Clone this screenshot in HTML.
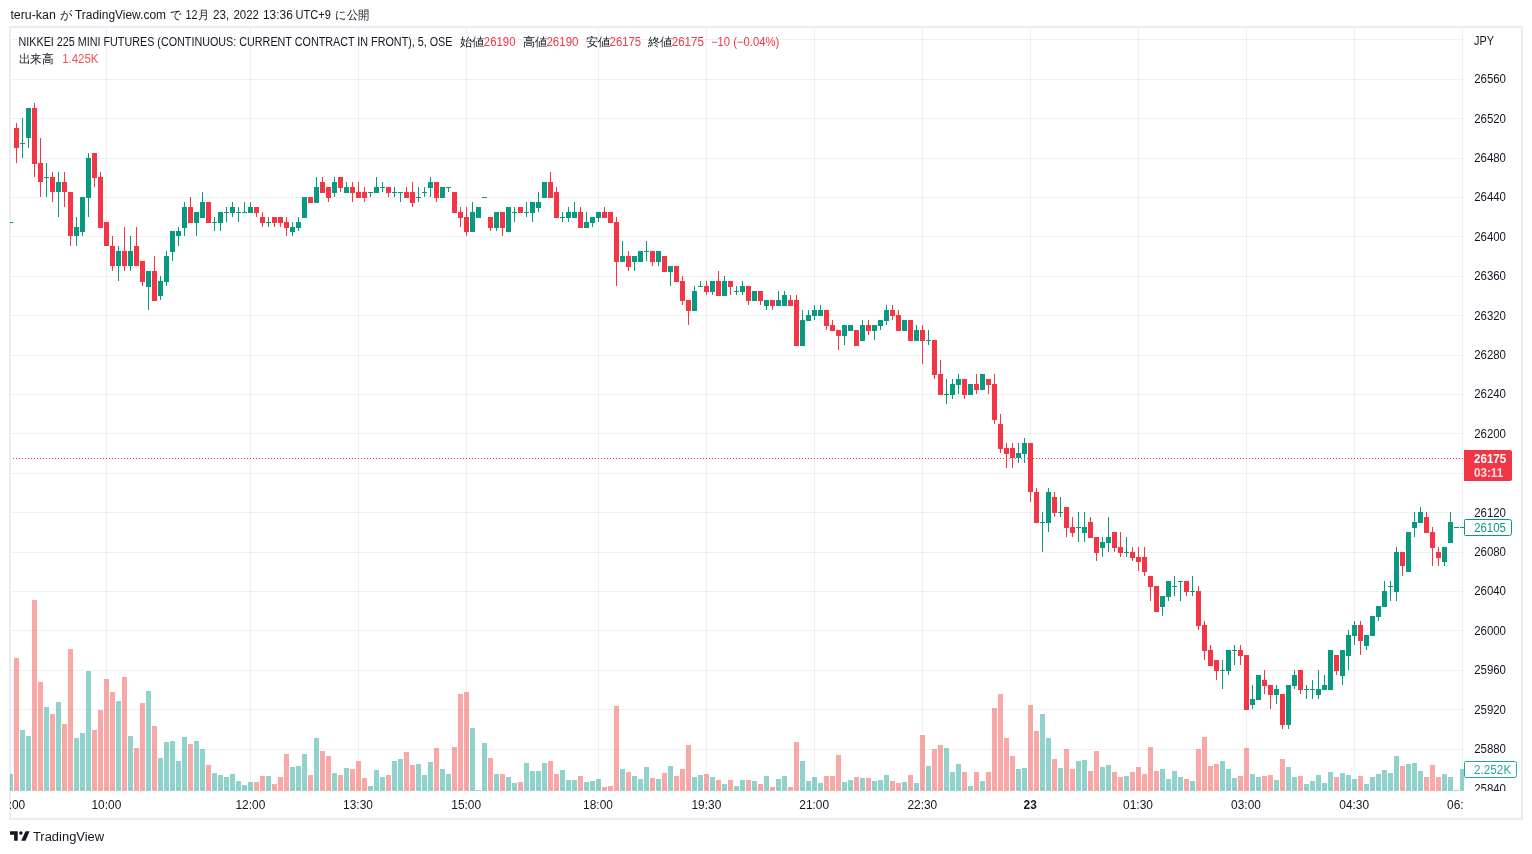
<!DOCTYPE html>
<html><head><meta charset="utf-8"><style>
html,body{margin:0;padding:0}
body{width:1532px;height:854px;background:#fff;position:relative;overflow:hidden;font-family:"Liberation Sans",sans-serif;color:#131722}
.t{position:absolute;white-space:nowrap}
.top{left:10.4px;top:5px;font-size:13px;line-height:16px}
.hdr{font-size:12px;line-height:14px}
.hdr .r{color:#f23645}
.hdr .r2{color:#ef5350}
.sp{display:inline-block;width:8px}
.pax{position:absolute;left:1463px;top:28px;width:58px;height:763px;overflow:hidden}
.pax .pl{position:absolute;left:11px;font-size:12px;line-height:14px;margin-top:-28px;letter-spacing:-0.4px}
.pl.w{color:#fff}
.pl.gr{color:#089981}
.pl.gr2{color:#26a69a}
.tax{position:absolute;left:11px;top:791px;width:1452px;height:27px;overflow:hidden}
.tl{position:absolute;top:6px;width:80px;text-align:center;font-size:12px;line-height:14px;margin-left:-11px;letter-spacing:-0.2px}
.logo{left:32.8px;top:829px;font-size:12.5px;line-height:14px}
</style></head><body>
<svg width="1532" height="854" style="position:absolute;left:0;top:0" shape-rendering="crispEdges"><defs><clipPath id="cp"><rect x="10" y="28" width="1454" height="763"/></clipPath><clipPath id="cpa"><rect x="1463" y="28" width="58" height="763"/></clipPath></defs><rect x="10" y="27" width="1512" height="792" fill="none" stroke="#ebedf2" stroke-width="2"/><g clip-path="url(#cp)"><rect x="10" y="39" width="1453" height="1" fill="rgba(40,60,50,0.07)"/><rect x="10" y="79" width="1453" height="1" fill="rgba(40,60,50,0.07)"/><rect x="10" y="118" width="1453" height="1" fill="rgba(40,60,50,0.07)"/><rect x="10" y="158" width="1453" height="1" fill="rgba(40,60,50,0.07)"/><rect x="10" y="197" width="1453" height="1" fill="rgba(40,60,50,0.07)"/><rect x="10" y="236" width="1453" height="1" fill="rgba(40,60,50,0.07)"/><rect x="10" y="276" width="1453" height="1" fill="rgba(40,60,50,0.07)"/><rect x="10" y="315" width="1453" height="1" fill="rgba(40,60,50,0.07)"/><rect x="10" y="355" width="1453" height="1" fill="rgba(40,60,50,0.07)"/><rect x="10" y="394" width="1453" height="1" fill="rgba(40,60,50,0.07)"/><rect x="10" y="433" width="1453" height="1" fill="rgba(40,60,50,0.07)"/><rect x="10" y="473" width="1453" height="1" fill="rgba(40,60,50,0.07)"/><rect x="10" y="512" width="1453" height="1" fill="rgba(40,60,50,0.07)"/><rect x="10" y="552" width="1453" height="1" fill="rgba(40,60,50,0.07)"/><rect x="10" y="591" width="1453" height="1" fill="rgba(40,60,50,0.07)"/><rect x="10" y="630" width="1453" height="1" fill="rgba(40,60,50,0.07)"/><rect x="10" y="670" width="1453" height="1" fill="rgba(40,60,50,0.07)"/><rect x="10" y="709" width="1453" height="1" fill="rgba(40,60,50,0.07)"/><rect x="10" y="749" width="1453" height="1" fill="rgba(40,60,50,0.07)"/><rect x="10" y="788" width="1453" height="1" fill="rgba(40,60,50,0.07)"/><rect x="106" y="28" width="1" height="763" fill="rgba(40,60,50,0.07)"/><rect x="250" y="28" width="1" height="763" fill="rgba(40,60,50,0.07)"/><rect x="358" y="28" width="1" height="763" fill="rgba(40,60,50,0.07)"/><rect x="466" y="28" width="1" height="763" fill="rgba(40,60,50,0.07)"/><rect x="598" y="28" width="1" height="763" fill="rgba(40,60,50,0.07)"/><rect x="706" y="28" width="1" height="763" fill="rgba(40,60,50,0.07)"/><rect x="814" y="28" width="1" height="763" fill="rgba(40,60,50,0.07)"/><rect x="922" y="28" width="1" height="763" fill="rgba(40,60,50,0.07)"/><rect x="1030" y="28" width="1" height="763" fill="rgba(40,60,50,0.07)"/><rect x="1138" y="28" width="1" height="763" fill="rgba(40,60,50,0.07)"/><rect x="1246" y="28" width="1" height="763" fill="rgba(40,60,50,0.07)"/><rect x="1354" y="28" width="1" height="763" fill="rgba(40,60,50,0.07)"/><rect x="1462" y="28" width="1" height="763" fill="rgba(40,60,50,0.07)"/><rect x="8" y="774" width="5" height="17" fill="rgba(38,166,154,0.5)"/><rect x="14" y="658" width="5" height="133" fill="rgba(239,83,80,0.5)"/><rect x="20" y="730" width="5" height="61" fill="rgba(38,166,154,0.5)"/><rect x="26" y="736" width="5" height="55" fill="rgba(38,166,154,0.5)"/><rect x="32" y="600" width="5" height="191" fill="rgba(239,83,80,0.5)"/><rect x="38" y="682" width="5" height="109" fill="rgba(239,83,80,0.5)"/><rect x="44" y="707" width="5" height="84" fill="rgba(38,166,154,0.5)"/><rect x="50" y="714" width="5" height="77" fill="rgba(239,83,80,0.5)"/><rect x="56" y="702" width="5" height="89" fill="rgba(38,166,154,0.5)"/><rect x="62" y="724" width="5" height="67" fill="rgba(239,83,80,0.5)"/><rect x="68" y="649" width="5" height="142" fill="rgba(239,83,80,0.5)"/><rect x="74" y="738" width="5" height="53" fill="rgba(38,166,154,0.5)"/><rect x="80" y="733" width="5" height="58" fill="rgba(38,166,154,0.5)"/><rect x="86" y="671" width="5" height="120" fill="rgba(38,166,154,0.5)"/><rect x="92" y="730" width="5" height="61" fill="rgba(239,83,80,0.5)"/><rect x="98" y="710" width="5" height="81" fill="rgba(239,83,80,0.5)"/><rect x="104" y="679" width="5" height="112" fill="rgba(239,83,80,0.5)"/><rect x="110" y="692" width="5" height="99" fill="rgba(239,83,80,0.5)"/><rect x="116" y="701" width="5" height="90" fill="rgba(38,166,154,0.5)"/><rect x="122" y="677" width="5" height="114" fill="rgba(239,83,80,0.5)"/><rect x="128" y="736" width="5" height="55" fill="rgba(38,166,154,0.5)"/><rect x="134" y="748" width="5" height="43" fill="rgba(239,83,80,0.5)"/><rect x="140" y="703" width="5" height="88" fill="rgba(239,83,80,0.5)"/><rect x="146" y="691" width="5" height="100" fill="rgba(38,166,154,0.5)"/><rect x="152" y="726" width="5" height="65" fill="rgba(239,83,80,0.5)"/><rect x="158" y="758" width="5" height="33" fill="rgba(38,166,154,0.5)"/><rect x="164" y="742" width="5" height="49" fill="rgba(38,166,154,0.5)"/><rect x="170" y="741" width="5" height="50" fill="rgba(38,166,154,0.5)"/><rect x="176" y="761" width="5" height="30" fill="rgba(38,166,154,0.5)"/><rect x="182" y="737" width="5" height="54" fill="rgba(38,166,154,0.5)"/><rect x="188" y="744" width="5" height="47" fill="rgba(239,83,80,0.5)"/><rect x="194" y="741" width="5" height="50" fill="rgba(38,166,154,0.5)"/><rect x="200" y="749" width="5" height="42" fill="rgba(38,166,154,0.5)"/><rect x="206" y="765" width="5" height="26" fill="rgba(239,83,80,0.5)"/><rect x="212" y="773" width="5" height="18" fill="rgba(38,166,154,0.5)"/><rect x="218" y="775" width="5" height="16" fill="rgba(38,166,154,0.5)"/><rect x="224" y="777" width="5" height="14" fill="rgba(38,166,154,0.5)"/><rect x="230" y="774" width="5" height="17" fill="rgba(38,166,154,0.5)"/><rect x="236" y="781" width="5" height="10" fill="rgba(38,166,154,0.5)"/><rect x="242" y="785" width="5" height="6" fill="rgba(38,166,154,0.5)"/><rect x="248" y="782" width="5" height="9" fill="rgba(38,166,154,0.5)"/><rect x="254" y="782" width="5" height="9" fill="rgba(239,83,80,0.5)"/><rect x="260" y="776" width="5" height="15" fill="rgba(239,83,80,0.5)"/><rect x="266" y="776" width="5" height="15" fill="rgba(38,166,154,0.5)"/><rect x="272" y="784" width="5" height="7" fill="rgba(239,83,80,0.5)"/><rect x="278" y="777" width="5" height="14" fill="rgba(239,83,80,0.5)"/><rect x="284" y="754" width="5" height="37" fill="rgba(239,83,80,0.5)"/><rect x="290" y="767" width="5" height="24" fill="rgba(38,166,154,0.5)"/><rect x="296" y="766" width="5" height="25" fill="rgba(38,166,154,0.5)"/><rect x="302" y="754" width="5" height="37" fill="rgba(38,166,154,0.5)"/><rect x="308" y="775" width="5" height="16" fill="rgba(239,83,80,0.5)"/><rect x="314" y="738" width="5" height="53" fill="rgba(38,166,154,0.5)"/><rect x="320" y="751" width="5" height="40" fill="rgba(239,83,80,0.5)"/><rect x="326" y="756" width="5" height="35" fill="rgba(239,83,80,0.5)"/><rect x="332" y="773" width="5" height="18" fill="rgba(38,166,154,0.5)"/><rect x="338" y="775" width="5" height="16" fill="rgba(239,83,80,0.5)"/><rect x="344" y="768" width="5" height="23" fill="rgba(38,166,154,0.5)"/><rect x="350" y="769" width="5" height="22" fill="rgba(239,83,80,0.5)"/><rect x="356" y="761" width="5" height="30" fill="rgba(239,83,80,0.5)"/><rect x="362" y="778" width="5" height="13" fill="rgba(239,83,80,0.5)"/><rect x="368" y="786" width="5" height="5" fill="rgba(38,166,154,0.5)"/><rect x="374" y="770" width="5" height="21" fill="rgba(38,166,154,0.5)"/><rect x="380" y="777" width="5" height="14" fill="rgba(38,166,154,0.5)"/><rect x="386" y="775" width="5" height="16" fill="rgba(239,83,80,0.5)"/><rect x="392" y="761" width="5" height="30" fill="rgba(38,166,154,0.5)"/><rect x="398" y="759" width="5" height="32" fill="rgba(38,166,154,0.5)"/><rect x="404" y="752" width="5" height="39" fill="rgba(239,83,80,0.5)"/><rect x="410" y="765" width="5" height="26" fill="rgba(239,83,80,0.5)"/><rect x="416" y="764" width="5" height="27" fill="rgba(38,166,154,0.5)"/><rect x="422" y="775" width="5" height="16" fill="rgba(38,166,154,0.5)"/><rect x="428" y="762" width="5" height="29" fill="rgba(38,166,154,0.5)"/><rect x="434" y="748" width="5" height="43" fill="rgba(239,83,80,0.5)"/><rect x="440" y="769" width="5" height="22" fill="rgba(38,166,154,0.5)"/><rect x="446" y="774" width="5" height="17" fill="rgba(38,166,154,0.5)"/><rect x="452" y="747" width="5" height="44" fill="rgba(239,83,80,0.5)"/><rect x="458" y="694" width="5" height="97" fill="rgba(239,83,80,0.5)"/><rect x="464" y="692" width="5" height="99" fill="rgba(239,83,80,0.5)"/><rect x="470" y="728" width="5" height="63" fill="rgba(38,166,154,0.5)"/><rect x="476" y="790" width="5" height="1" fill="rgba(38,166,154,0.5)"/><rect x="482" y="743" width="5" height="48" fill="rgba(38,166,154,0.5)"/><rect x="488" y="758" width="5" height="33" fill="rgba(239,83,80,0.5)"/><rect x="494" y="774" width="5" height="17" fill="rgba(38,166,154,0.5)"/><rect x="500" y="774" width="5" height="17" fill="rgba(239,83,80,0.5)"/><rect x="506" y="777" width="5" height="14" fill="rgba(38,166,154,0.5)"/><rect x="512" y="783" width="5" height="8" fill="rgba(38,166,154,0.5)"/><rect x="518" y="782" width="5" height="9" fill="rgba(239,83,80,0.5)"/><rect x="524" y="763" width="5" height="28" fill="rgba(38,166,154,0.5)"/><rect x="530" y="771" width="5" height="20" fill="rgba(38,166,154,0.5)"/><rect x="536" y="771" width="5" height="20" fill="rgba(38,166,154,0.5)"/><rect x="542" y="763" width="5" height="28" fill="rgba(38,166,154,0.5)"/><rect x="548" y="761" width="5" height="30" fill="rgba(239,83,80,0.5)"/><rect x="554" y="774" width="5" height="17" fill="rgba(239,83,80,0.5)"/><rect x="560" y="770" width="5" height="21" fill="rgba(38,166,154,0.5)"/><rect x="566" y="780" width="5" height="11" fill="rgba(38,166,154,0.5)"/><rect x="572" y="780" width="5" height="11" fill="rgba(38,166,154,0.5)"/><rect x="578" y="776" width="5" height="15" fill="rgba(239,83,80,0.5)"/><rect x="584" y="782" width="5" height="9" fill="rgba(38,166,154,0.5)"/><rect x="590" y="781" width="5" height="10" fill="rgba(38,166,154,0.5)"/><rect x="596" y="779" width="5" height="12" fill="rgba(38,166,154,0.5)"/><rect x="602" y="787" width="5" height="4" fill="rgba(239,83,80,0.5)"/><rect x="608" y="786" width="5" height="5" fill="rgba(239,83,80,0.5)"/><rect x="614" y="706" width="5" height="85" fill="rgba(239,83,80,0.5)"/><rect x="620" y="769" width="5" height="22" fill="rgba(38,166,154,0.5)"/><rect x="626" y="772" width="5" height="19" fill="rgba(239,83,80,0.5)"/><rect x="632" y="776" width="5" height="15" fill="rgba(38,166,154,0.5)"/><rect x="638" y="779" width="5" height="12" fill="rgba(38,166,154,0.5)"/><rect x="644" y="767" width="5" height="24" fill="rgba(38,166,154,0.5)"/><rect x="650" y="778" width="5" height="13" fill="rgba(239,83,80,0.5)"/><rect x="656" y="779" width="5" height="12" fill="rgba(38,166,154,0.5)"/><rect x="662" y="773" width="5" height="18" fill="rgba(239,83,80,0.5)"/><rect x="668" y="766" width="5" height="25" fill="rgba(38,166,154,0.5)"/><rect x="674" y="776" width="5" height="15" fill="rgba(239,83,80,0.5)"/><rect x="680" y="769" width="5" height="22" fill="rgba(239,83,80,0.5)"/><rect x="686" y="745" width="5" height="46" fill="rgba(239,83,80,0.5)"/><rect x="692" y="777" width="5" height="14" fill="rgba(38,166,154,0.5)"/><rect x="698" y="775" width="5" height="16" fill="rgba(38,166,154,0.5)"/><rect x="704" y="774" width="5" height="17" fill="rgba(239,83,80,0.5)"/><rect x="710" y="777" width="5" height="14" fill="rgba(38,166,154,0.5)"/><rect x="716" y="780" width="5" height="11" fill="rgba(239,83,80,0.5)"/><rect x="722" y="784" width="5" height="7" fill="rgba(38,166,154,0.5)"/><rect x="728" y="780" width="5" height="11" fill="rgba(239,83,80,0.5)"/><rect x="734" y="786" width="5" height="5" fill="rgba(38,166,154,0.5)"/><rect x="740" y="780" width="5" height="11" fill="rgba(38,166,154,0.5)"/><rect x="746" y="780" width="5" height="11" fill="rgba(239,83,80,0.5)"/><rect x="752" y="781" width="5" height="10" fill="rgba(38,166,154,0.5)"/><rect x="758" y="784" width="5" height="7" fill="rgba(239,83,80,0.5)"/><rect x="764" y="776" width="5" height="15" fill="rgba(38,166,154,0.5)"/><rect x="770" y="787" width="5" height="4" fill="rgba(239,83,80,0.5)"/><rect x="776" y="779" width="5" height="12" fill="rgba(38,166,154,0.5)"/><rect x="782" y="776" width="5" height="15" fill="rgba(38,166,154,0.5)"/><rect x="788" y="787" width="5" height="4" fill="rgba(239,83,80,0.5)"/><rect x="794" y="742" width="5" height="49" fill="rgba(239,83,80,0.5)"/><rect x="800" y="761" width="5" height="30" fill="rgba(38,166,154,0.5)"/><rect x="806" y="781" width="5" height="10" fill="rgba(38,166,154,0.5)"/><rect x="812" y="777" width="5" height="14" fill="rgba(38,166,154,0.5)"/><rect x="818" y="783" width="5" height="8" fill="rgba(38,166,154,0.5)"/><rect x="824" y="776" width="5" height="15" fill="rgba(239,83,80,0.5)"/><rect x="830" y="776" width="5" height="15" fill="rgba(239,83,80,0.5)"/><rect x="836" y="755" width="5" height="36" fill="rgba(239,83,80,0.5)"/><rect x="842" y="782" width="5" height="9" fill="rgba(38,166,154,0.5)"/><rect x="848" y="780" width="5" height="11" fill="rgba(38,166,154,0.5)"/><rect x="854" y="777" width="5" height="14" fill="rgba(239,83,80,0.5)"/><rect x="860" y="778" width="5" height="13" fill="rgba(38,166,154,0.5)"/><rect x="866" y="778" width="5" height="13" fill="rgba(239,83,80,0.5)"/><rect x="872" y="781" width="5" height="10" fill="rgba(38,166,154,0.5)"/><rect x="878" y="780" width="5" height="11" fill="rgba(38,166,154,0.5)"/><rect x="884" y="775" width="5" height="16" fill="rgba(38,166,154,0.5)"/><rect x="890" y="781" width="5" height="10" fill="rgba(239,83,80,0.5)"/><rect x="896" y="783" width="5" height="8" fill="rgba(239,83,80,0.5)"/><rect x="902" y="782" width="5" height="9" fill="rgba(38,166,154,0.5)"/><rect x="908" y="775" width="5" height="16" fill="rgba(239,83,80,0.5)"/><rect x="914" y="783" width="5" height="8" fill="rgba(38,166,154,0.5)"/><rect x="920" y="735" width="5" height="56" fill="rgba(239,83,80,0.5)"/><rect x="926" y="766" width="5" height="25" fill="rgba(38,166,154,0.5)"/><rect x="932" y="749" width="5" height="42" fill="rgba(239,83,80,0.5)"/><rect x="938" y="745" width="5" height="46" fill="rgba(239,83,80,0.5)"/><rect x="944" y="748" width="5" height="43" fill="rgba(38,166,154,0.5)"/><rect x="950" y="772" width="5" height="19" fill="rgba(38,166,154,0.5)"/><rect x="956" y="764" width="5" height="27" fill="rgba(38,166,154,0.5)"/><rect x="962" y="772" width="5" height="19" fill="rgba(239,83,80,0.5)"/><rect x="968" y="786" width="5" height="5" fill="rgba(38,166,154,0.5)"/><rect x="974" y="772" width="5" height="19" fill="rgba(239,83,80,0.5)"/><rect x="980" y="781" width="5" height="10" fill="rgba(38,166,154,0.5)"/><rect x="986" y="772" width="5" height="19" fill="rgba(239,83,80,0.5)"/><rect x="992" y="708" width="5" height="83" fill="rgba(239,83,80,0.5)"/><rect x="998" y="694" width="5" height="97" fill="rgba(239,83,80,0.5)"/><rect x="1004" y="738" width="5" height="53" fill="rgba(239,83,80,0.5)"/><rect x="1010" y="756" width="5" height="35" fill="rgba(239,83,80,0.5)"/><rect x="1016" y="769" width="5" height="22" fill="rgba(38,166,154,0.5)"/><rect x="1022" y="768" width="5" height="23" fill="rgba(38,166,154,0.5)"/><rect x="1028" y="705" width="5" height="86" fill="rgba(239,83,80,0.5)"/><rect x="1034" y="731" width="5" height="60" fill="rgba(239,83,80,0.5)"/><rect x="1040" y="714" width="5" height="77" fill="rgba(38,166,154,0.5)"/><rect x="1046" y="738" width="5" height="53" fill="rgba(38,166,154,0.5)"/><rect x="1052" y="759" width="5" height="32" fill="rgba(239,83,80,0.5)"/><rect x="1058" y="768" width="5" height="23" fill="rgba(38,166,154,0.5)"/><rect x="1064" y="749" width="5" height="42" fill="rgba(239,83,80,0.5)"/><rect x="1070" y="769" width="5" height="22" fill="rgba(239,83,80,0.5)"/><rect x="1076" y="761" width="5" height="30" fill="rgba(38,166,154,0.5)"/><rect x="1082" y="760" width="5" height="31" fill="rgba(38,166,154,0.5)"/><rect x="1088" y="771" width="5" height="20" fill="rgba(239,83,80,0.5)"/><rect x="1094" y="751" width="5" height="40" fill="rgba(239,83,80,0.5)"/><rect x="1100" y="767" width="5" height="24" fill="rgba(38,166,154,0.5)"/><rect x="1106" y="765" width="5" height="26" fill="rgba(38,166,154,0.5)"/><rect x="1112" y="772" width="5" height="19" fill="rgba(239,83,80,0.5)"/><rect x="1118" y="777" width="5" height="14" fill="rgba(239,83,80,0.5)"/><rect x="1124" y="776" width="5" height="15" fill="rgba(38,166,154,0.5)"/><rect x="1130" y="772" width="5" height="19" fill="rgba(239,83,80,0.5)"/><rect x="1136" y="767" width="5" height="24" fill="rgba(239,83,80,0.5)"/><rect x="1142" y="774" width="5" height="17" fill="rgba(239,83,80,0.5)"/><rect x="1148" y="747" width="5" height="44" fill="rgba(239,83,80,0.5)"/><rect x="1154" y="771" width="5" height="20" fill="rgba(239,83,80,0.5)"/><rect x="1160" y="769" width="5" height="22" fill="rgba(38,166,154,0.5)"/><rect x="1166" y="779" width="5" height="12" fill="rgba(38,166,154,0.5)"/><rect x="1172" y="771" width="5" height="20" fill="rgba(38,166,154,0.5)"/><rect x="1178" y="777" width="5" height="14" fill="rgba(38,166,154,0.5)"/><rect x="1184" y="779" width="5" height="12" fill="rgba(239,83,80,0.5)"/><rect x="1190" y="781" width="5" height="10" fill="rgba(38,166,154,0.5)"/><rect x="1196" y="749" width="5" height="42" fill="rgba(239,83,80,0.5)"/><rect x="1202" y="737" width="5" height="54" fill="rgba(239,83,80,0.5)"/><rect x="1208" y="766" width="5" height="25" fill="rgba(239,83,80,0.5)"/><rect x="1214" y="764" width="5" height="27" fill="rgba(239,83,80,0.5)"/><rect x="1220" y="761" width="5" height="30" fill="rgba(38,166,154,0.5)"/><rect x="1226" y="769" width="5" height="22" fill="rgba(38,166,154,0.5)"/><rect x="1232" y="778" width="5" height="13" fill="rgba(38,166,154,0.5)"/><rect x="1238" y="776" width="5" height="15" fill="rgba(239,83,80,0.5)"/><rect x="1244" y="748" width="5" height="43" fill="rgba(239,83,80,0.5)"/><rect x="1250" y="774" width="5" height="17" fill="rgba(38,166,154,0.5)"/><rect x="1256" y="777" width="5" height="14" fill="rgba(38,166,154,0.5)"/><rect x="1262" y="776" width="5" height="15" fill="rgba(239,83,80,0.5)"/><rect x="1268" y="775" width="5" height="16" fill="rgba(239,83,80,0.5)"/><rect x="1274" y="780" width="5" height="11" fill="rgba(38,166,154,0.5)"/><rect x="1280" y="759" width="5" height="32" fill="rgba(239,83,80,0.5)"/><rect x="1286" y="767" width="5" height="24" fill="rgba(38,166,154,0.5)"/><rect x="1292" y="777" width="5" height="14" fill="rgba(38,166,154,0.5)"/><rect x="1298" y="776" width="5" height="15" fill="rgba(239,83,80,0.5)"/><rect x="1304" y="784" width="5" height="7" fill="rgba(38,166,154,0.5)"/><rect x="1310" y="781" width="5" height="10" fill="rgba(38,166,154,0.5)"/><rect x="1316" y="775" width="5" height="16" fill="rgba(38,166,154,0.5)"/><rect x="1322" y="783" width="5" height="8" fill="rgba(38,166,154,0.5)"/><rect x="1328" y="772" width="5" height="19" fill="rgba(38,166,154,0.5)"/><rect x="1334" y="777" width="5" height="14" fill="rgba(239,83,80,0.5)"/><rect x="1340" y="773" width="5" height="18" fill="rgba(38,166,154,0.5)"/><rect x="1346" y="775" width="5" height="16" fill="rgba(38,166,154,0.5)"/><rect x="1352" y="779" width="5" height="12" fill="rgba(38,166,154,0.5)"/><rect x="1358" y="776" width="5" height="15" fill="rgba(239,83,80,0.5)"/><rect x="1364" y="784" width="5" height="7" fill="rgba(38,166,154,0.5)"/><rect x="1370" y="777" width="5" height="14" fill="rgba(38,166,154,0.5)"/><rect x="1376" y="774" width="5" height="17" fill="rgba(38,166,154,0.5)"/><rect x="1382" y="770" width="5" height="21" fill="rgba(38,166,154,0.5)"/><rect x="1388" y="773" width="5" height="18" fill="rgba(38,166,154,0.5)"/><rect x="1394" y="756" width="5" height="35" fill="rgba(38,166,154,0.5)"/><rect x="1400" y="766" width="5" height="25" fill="rgba(239,83,80,0.5)"/><rect x="1406" y="764" width="5" height="27" fill="rgba(38,166,154,0.5)"/><rect x="1412" y="763" width="5" height="28" fill="rgba(38,166,154,0.5)"/><rect x="1418" y="771" width="5" height="20" fill="rgba(38,166,154,0.5)"/><rect x="1424" y="777" width="5" height="14" fill="rgba(239,83,80,0.5)"/><rect x="1430" y="765" width="5" height="26" fill="rgba(239,83,80,0.5)"/><rect x="1436" y="777" width="5" height="14" fill="rgba(239,83,80,0.5)"/><rect x="1442" y="774" width="5" height="17" fill="rgba(38,166,154,0.5)"/><rect x="1448" y="777" width="5" height="14" fill="rgba(38,166,154,0.5)"/><rect x="1454" y="790" width="5" height="1" fill="rgba(38,166,154,0.5)"/><rect x="1460" y="769" width="5" height="22" fill="rgba(38,166,154,0.5)"/><line x1="13" y1="458.5" x2="1463" y2="458.5" stroke="#f23645" stroke-width="1" stroke-dasharray="1 2"/><rect x="8" y="222" width="5" height="1" fill="#089981"/><rect x="16" y="123" width="1" height="40" fill="#f23645"/><rect x="14" y="128" width="5" height="20" fill="#f23645"/><rect x="22" y="118" width="1" height="40" fill="#089981"/><rect x="20" y="143" width="5" height="1" fill="#089981"/><rect x="28" y="108" width="1" height="40" fill="#089981"/><rect x="26" y="108" width="5" height="30" fill="#089981"/><rect x="34" y="103" width="1" height="74" fill="#f23645"/><rect x="32" y="108" width="5" height="56" fill="#f23645"/><rect x="40" y="138" width="1" height="59" fill="#f23645"/><rect x="38" y="163" width="5" height="19" fill="#f23645"/><rect x="46" y="163" width="1" height="34" fill="#089981"/><rect x="44" y="177" width="5" height="1" fill="#089981"/><rect x="52" y="172" width="1" height="30" fill="#f23645"/><rect x="50" y="177" width="5" height="15" fill="#f23645"/><rect x="58" y="172" width="1" height="45" fill="#089981"/><rect x="56" y="182" width="5" height="10" fill="#089981"/><rect x="64" y="172" width="1" height="35" fill="#f23645"/><rect x="62" y="182" width="5" height="10" fill="#f23645"/><rect x="70" y="192" width="1" height="54" fill="#f23645"/><rect x="68" y="192" width="5" height="44" fill="#f23645"/><rect x="76" y="217" width="1" height="29" fill="#089981"/><rect x="74" y="227" width="5" height="9" fill="#089981"/><rect x="82" y="197" width="1" height="39" fill="#089981"/><rect x="80" y="197" width="5" height="35" fill="#089981"/><rect x="88" y="153" width="1" height="64" fill="#089981"/><rect x="86" y="158" width="5" height="40" fill="#089981"/><rect x="94" y="153" width="1" height="34" fill="#f23645"/><rect x="92" y="153" width="5" height="25" fill="#f23645"/><rect x="100" y="172" width="1" height="56" fill="#f23645"/><rect x="98" y="177" width="5" height="51" fill="#f23645"/><rect x="104" y="222" width="5" height="24" fill="#f23645"/><rect x="112" y="236" width="1" height="35" fill="#f23645"/><rect x="110" y="246" width="5" height="20" fill="#f23645"/><rect x="118" y="246" width="1" height="35" fill="#089981"/><rect x="116" y="251" width="5" height="15" fill="#089981"/><rect x="124" y="227" width="1" height="44" fill="#f23645"/><rect x="122" y="251" width="5" height="15" fill="#f23645"/><rect x="130" y="236" width="1" height="35" fill="#089981"/><rect x="128" y="251" width="5" height="15" fill="#089981"/><rect x="136" y="227" width="1" height="39" fill="#f23645"/><rect x="134" y="246" width="5" height="20" fill="#f23645"/><rect x="142" y="261" width="1" height="25" fill="#f23645"/><rect x="140" y="261" width="5" height="21" fill="#f23645"/><rect x="148" y="271" width="1" height="39" fill="#089981"/><rect x="146" y="271" width="5" height="16" fill="#089981"/><rect x="154" y="256" width="1" height="45" fill="#f23645"/><rect x="152" y="271" width="5" height="30" fill="#f23645"/><rect x="160" y="276" width="1" height="24" fill="#089981"/><rect x="158" y="281" width="5" height="15" fill="#089981"/><rect x="166" y="251" width="1" height="35" fill="#089981"/><rect x="164" y="256" width="5" height="26" fill="#089981"/><rect x="172" y="231" width="1" height="30" fill="#089981"/><rect x="170" y="231" width="5" height="21" fill="#089981"/><rect x="178" y="227" width="1" height="19" fill="#089981"/><rect x="176" y="231" width="5" height="5" fill="#089981"/><rect x="184" y="202" width="1" height="34" fill="#089981"/><rect x="182" y="207" width="5" height="21" fill="#089981"/><rect x="190" y="197" width="1" height="26" fill="#f23645"/><rect x="188" y="207" width="5" height="16" fill="#f23645"/><rect x="196" y="212" width="1" height="24" fill="#089981"/><rect x="194" y="212" width="5" height="11" fill="#089981"/><rect x="202" y="192" width="1" height="26" fill="#089981"/><rect x="200" y="202" width="5" height="16" fill="#089981"/><rect x="206" y="202" width="5" height="21" fill="#f23645"/><rect x="214" y="217" width="1" height="14" fill="#089981"/><rect x="212" y="222" width="5" height="1" fill="#089981"/><rect x="220" y="212" width="1" height="19" fill="#089981"/><rect x="218" y="212" width="5" height="11" fill="#089981"/><rect x="226" y="207" width="1" height="15" fill="#089981"/><rect x="224" y="212" width="5" height="1" fill="#089981"/><rect x="232" y="202" width="1" height="15" fill="#089981"/><rect x="230" y="207" width="5" height="6" fill="#089981"/><rect x="238" y="207" width="1" height="15" fill="#089981"/><rect x="236" y="212" width="5" height="1" fill="#089981"/><rect x="244" y="202" width="1" height="11" fill="#089981"/><rect x="242" y="212" width="5" height="1" fill="#089981"/><rect x="250" y="202" width="1" height="11" fill="#089981"/><rect x="248" y="207" width="5" height="6" fill="#089981"/><rect x="256" y="207" width="1" height="10" fill="#f23645"/><rect x="254" y="207" width="5" height="6" fill="#f23645"/><rect x="262" y="212" width="1" height="15" fill="#f23645"/><rect x="260" y="217" width="5" height="6" fill="#f23645"/><rect x="268" y="217" width="1" height="10" fill="#089981"/><rect x="266" y="222" width="5" height="1" fill="#089981"/><rect x="274" y="217" width="1" height="10" fill="#f23645"/><rect x="272" y="217" width="5" height="6" fill="#f23645"/><rect x="280" y="217" width="1" height="10" fill="#f23645"/><rect x="278" y="217" width="5" height="6" fill="#f23645"/><rect x="286" y="217" width="1" height="19" fill="#f23645"/><rect x="284" y="222" width="5" height="6" fill="#f23645"/><rect x="292" y="222" width="1" height="14" fill="#089981"/><rect x="290" y="227" width="5" height="5" fill="#089981"/><rect x="298" y="217" width="1" height="14" fill="#089981"/><rect x="296" y="222" width="5" height="6" fill="#089981"/><rect x="302" y="197" width="5" height="21" fill="#089981"/><rect x="308" y="197" width="5" height="6" fill="#f23645"/><rect x="316" y="177" width="1" height="26" fill="#089981"/><rect x="314" y="187" width="5" height="16" fill="#089981"/><rect x="322" y="177" width="1" height="16" fill="#f23645"/><rect x="320" y="182" width="5" height="11" fill="#f23645"/><rect x="328" y="187" width="1" height="15" fill="#f23645"/><rect x="326" y="187" width="5" height="11" fill="#f23645"/><rect x="334" y="177" width="1" height="20" fill="#089981"/><rect x="332" y="182" width="5" height="11" fill="#089981"/><rect x="340" y="177" width="1" height="15" fill="#f23645"/><rect x="338" y="177" width="5" height="11" fill="#f23645"/><rect x="346" y="182" width="1" height="11" fill="#089981"/><rect x="344" y="187" width="5" height="6" fill="#089981"/><rect x="352" y="182" width="1" height="20" fill="#f23645"/><rect x="350" y="187" width="5" height="6" fill="#f23645"/><rect x="358" y="182" width="1" height="16" fill="#f23645"/><rect x="356" y="192" width="5" height="6" fill="#f23645"/><rect x="364" y="187" width="1" height="15" fill="#f23645"/><rect x="362" y="192" width="5" height="6" fill="#f23645"/><rect x="370" y="192" width="1" height="5" fill="#089981"/><rect x="368" y="192" width="5" height="1" fill="#089981"/><rect x="376" y="177" width="1" height="16" fill="#089981"/><rect x="374" y="187" width="5" height="6" fill="#089981"/><rect x="382" y="182" width="1" height="10" fill="#089981"/><rect x="380" y="187" width="5" height="1" fill="#089981"/><rect x="388" y="187" width="1" height="10" fill="#f23645"/><rect x="386" y="187" width="5" height="6" fill="#f23645"/><rect x="394" y="187" width="1" height="10" fill="#089981"/><rect x="392" y="192" width="5" height="1" fill="#089981"/><rect x="400" y="192" width="1" height="10" fill="#089981"/><rect x="398" y="192" width="5" height="1" fill="#089981"/><rect x="406" y="187" width="1" height="11" fill="#f23645"/><rect x="404" y="192" width="5" height="6" fill="#f23645"/><rect x="412" y="182" width="1" height="25" fill="#f23645"/><rect x="410" y="192" width="5" height="11" fill="#f23645"/><rect x="418" y="187" width="1" height="15" fill="#089981"/><rect x="416" y="197" width="5" height="1" fill="#089981"/><rect x="424" y="187" width="1" height="10" fill="#089981"/><rect x="422" y="192" width="5" height="1" fill="#089981"/><rect x="430" y="177" width="1" height="20" fill="#089981"/><rect x="428" y="182" width="5" height="6" fill="#089981"/><rect x="436" y="182" width="1" height="20" fill="#f23645"/><rect x="434" y="182" width="5" height="16" fill="#f23645"/><rect x="440" y="187" width="5" height="11" fill="#089981"/><rect x="448" y="187" width="1" height="5" fill="#089981"/><rect x="446" y="187" width="5" height="1" fill="#089981"/><rect x="452" y="192" width="5" height="21" fill="#f23645"/><rect x="460" y="207" width="1" height="20" fill="#f23645"/><rect x="458" y="212" width="5" height="6" fill="#f23645"/><rect x="466" y="207" width="1" height="29" fill="#f23645"/><rect x="464" y="217" width="5" height="15" fill="#f23645"/><rect x="472" y="202" width="1" height="30" fill="#089981"/><rect x="470" y="212" width="5" height="20" fill="#089981"/><rect x="476" y="207" width="5" height="11" fill="#089981"/><rect x="482" y="197" width="5" height="1" fill="#089981"/><rect x="490" y="217" width="1" height="14" fill="#f23645"/><rect x="488" y="217" width="5" height="11" fill="#f23645"/><rect x="496" y="212" width="1" height="19" fill="#089981"/><rect x="494" y="212" width="5" height="16" fill="#089981"/><rect x="502" y="212" width="1" height="24" fill="#f23645"/><rect x="500" y="212" width="5" height="16" fill="#f23645"/><rect x="506" y="207" width="5" height="25" fill="#089981"/><rect x="514" y="207" width="1" height="15" fill="#089981"/><rect x="512" y="212" width="5" height="1" fill="#089981"/><rect x="518" y="207" width="5" height="6" fill="#f23645"/><rect x="526" y="202" width="1" height="15" fill="#089981"/><rect x="524" y="212" width="5" height="1" fill="#089981"/><rect x="532" y="202" width="1" height="20" fill="#089981"/><rect x="530" y="202" width="5" height="11" fill="#089981"/><rect x="538" y="192" width="1" height="20" fill="#089981"/><rect x="536" y="202" width="5" height="6" fill="#089981"/><rect x="542" y="182" width="5" height="16" fill="#089981"/><rect x="550" y="172" width="1" height="26" fill="#f23645"/><rect x="548" y="182" width="5" height="16" fill="#f23645"/><rect x="556" y="187" width="1" height="31" fill="#f23645"/><rect x="554" y="192" width="5" height="26" fill="#f23645"/><rect x="562" y="212" width="1" height="10" fill="#089981"/><rect x="560" y="217" width="5" height="1" fill="#089981"/><rect x="568" y="207" width="1" height="15" fill="#089981"/><rect x="566" y="212" width="5" height="6" fill="#089981"/><rect x="574" y="202" width="1" height="16" fill="#089981"/><rect x="572" y="212" width="5" height="6" fill="#089981"/><rect x="580" y="207" width="1" height="21" fill="#f23645"/><rect x="578" y="212" width="5" height="16" fill="#f23645"/><rect x="586" y="212" width="1" height="16" fill="#089981"/><rect x="584" y="222" width="5" height="6" fill="#089981"/><rect x="592" y="217" width="1" height="10" fill="#089981"/><rect x="590" y="217" width="5" height="6" fill="#089981"/><rect x="598" y="212" width="1" height="10" fill="#089981"/><rect x="596" y="212" width="5" height="6" fill="#089981"/><rect x="604" y="207" width="1" height="11" fill="#f23645"/><rect x="602" y="212" width="5" height="6" fill="#f23645"/><rect x="608" y="212" width="5" height="11" fill="#f23645"/><rect x="616" y="217" width="1" height="69" fill="#f23645"/><rect x="614" y="222" width="5" height="40" fill="#f23645"/><rect x="622" y="241" width="1" height="21" fill="#089981"/><rect x="620" y="256" width="5" height="6" fill="#089981"/><rect x="628" y="251" width="1" height="20" fill="#f23645"/><rect x="626" y="256" width="5" height="11" fill="#f23645"/><rect x="634" y="256" width="1" height="15" fill="#089981"/><rect x="632" y="256" width="5" height="6" fill="#089981"/><rect x="638" y="251" width="5" height="11" fill="#089981"/><rect x="646" y="241" width="1" height="20" fill="#089981"/><rect x="644" y="251" width="5" height="1" fill="#089981"/><rect x="652" y="251" width="1" height="15" fill="#f23645"/><rect x="650" y="251" width="5" height="11" fill="#f23645"/><rect x="658" y="251" width="1" height="15" fill="#089981"/><rect x="656" y="251" width="5" height="11" fill="#089981"/><rect x="662" y="256" width="5" height="16" fill="#f23645"/><rect x="670" y="266" width="1" height="20" fill="#089981"/><rect x="668" y="266" width="5" height="6" fill="#089981"/><rect x="674" y="266" width="5" height="16" fill="#f23645"/><rect x="682" y="276" width="1" height="29" fill="#f23645"/><rect x="680" y="281" width="5" height="20" fill="#f23645"/><rect x="688" y="300" width="1" height="25" fill="#f23645"/><rect x="686" y="300" width="5" height="11" fill="#f23645"/><rect x="694" y="286" width="1" height="25" fill="#089981"/><rect x="692" y="291" width="5" height="20" fill="#089981"/><rect x="700" y="281" width="1" height="6" fill="#089981"/><rect x="698" y="286" width="5" height="1" fill="#089981"/><rect x="706" y="281" width="1" height="14" fill="#f23645"/><rect x="704" y="286" width="5" height="6" fill="#f23645"/><rect x="712" y="281" width="1" height="14" fill="#089981"/><rect x="710" y="281" width="5" height="11" fill="#089981"/><rect x="718" y="271" width="1" height="25" fill="#f23645"/><rect x="716" y="281" width="5" height="15" fill="#f23645"/><rect x="724" y="276" width="1" height="20" fill="#089981"/><rect x="722" y="281" width="5" height="15" fill="#089981"/><rect x="730" y="281" width="1" height="14" fill="#f23645"/><rect x="728" y="281" width="5" height="6" fill="#f23645"/><rect x="736" y="286" width="1" height="9" fill="#089981"/><rect x="734" y="291" width="5" height="1" fill="#089981"/><rect x="742" y="281" width="1" height="14" fill="#089981"/><rect x="740" y="286" width="5" height="6" fill="#089981"/><rect x="748" y="286" width="1" height="19" fill="#f23645"/><rect x="746" y="286" width="5" height="15" fill="#f23645"/><rect x="752" y="291" width="5" height="10" fill="#089981"/><rect x="760" y="291" width="1" height="14" fill="#f23645"/><rect x="758" y="291" width="5" height="10" fill="#f23645"/><rect x="766" y="300" width="1" height="10" fill="#089981"/><rect x="764" y="300" width="5" height="6" fill="#089981"/><rect x="772" y="300" width="1" height="10" fill="#f23645"/><rect x="770" y="300" width="5" height="6" fill="#f23645"/><rect x="778" y="291" width="1" height="15" fill="#089981"/><rect x="776" y="300" width="5" height="6" fill="#089981"/><rect x="784" y="291" width="1" height="15" fill="#089981"/><rect x="782" y="295" width="5" height="11" fill="#089981"/><rect x="790" y="295" width="1" height="11" fill="#f23645"/><rect x="788" y="300" width="5" height="6" fill="#f23645"/><rect x="796" y="295" width="1" height="51" fill="#f23645"/><rect x="794" y="300" width="5" height="46" fill="#f23645"/><rect x="802" y="310" width="1" height="36" fill="#089981"/><rect x="800" y="320" width="5" height="26" fill="#089981"/><rect x="808" y="310" width="1" height="11" fill="#089981"/><rect x="806" y="315" width="5" height="6" fill="#089981"/><rect x="814" y="305" width="1" height="15" fill="#089981"/><rect x="812" y="310" width="5" height="6" fill="#089981"/><rect x="820" y="305" width="1" height="11" fill="#089981"/><rect x="818" y="310" width="5" height="6" fill="#089981"/><rect x="826" y="310" width="1" height="20" fill="#f23645"/><rect x="824" y="310" width="5" height="16" fill="#f23645"/><rect x="832" y="320" width="1" height="11" fill="#f23645"/><rect x="830" y="325" width="5" height="6" fill="#f23645"/><rect x="838" y="330" width="1" height="20" fill="#f23645"/><rect x="836" y="330" width="5" height="6" fill="#f23645"/><rect x="844" y="325" width="1" height="20" fill="#089981"/><rect x="842" y="325" width="5" height="11" fill="#089981"/><rect x="848" y="325" width="5" height="6" fill="#089981"/><rect x="854" y="330" width="5" height="16" fill="#f23645"/><rect x="862" y="320" width="1" height="21" fill="#089981"/><rect x="860" y="325" width="5" height="16" fill="#089981"/><rect x="868" y="320" width="1" height="15" fill="#f23645"/><rect x="866" y="325" width="5" height="6" fill="#f23645"/><rect x="874" y="325" width="1" height="15" fill="#089981"/><rect x="872" y="325" width="5" height="6" fill="#089981"/><rect x="880" y="320" width="1" height="10" fill="#089981"/><rect x="878" y="320" width="5" height="6" fill="#089981"/><rect x="886" y="305" width="1" height="20" fill="#089981"/><rect x="884" y="310" width="5" height="11" fill="#089981"/><rect x="892" y="305" width="1" height="15" fill="#f23645"/><rect x="890" y="310" width="5" height="6" fill="#f23645"/><rect x="898" y="310" width="1" height="21" fill="#f23645"/><rect x="896" y="315" width="5" height="16" fill="#f23645"/><rect x="902" y="320" width="5" height="11" fill="#089981"/><rect x="908" y="320" width="5" height="21" fill="#f23645"/><rect x="916" y="325" width="1" height="16" fill="#089981"/><rect x="914" y="330" width="5" height="11" fill="#089981"/><rect x="922" y="325" width="1" height="39" fill="#f23645"/><rect x="920" y="330" width="5" height="11" fill="#f23645"/><rect x="928" y="330" width="1" height="15" fill="#089981"/><rect x="926" y="340" width="5" height="1" fill="#089981"/><rect x="934" y="340" width="1" height="39" fill="#f23645"/><rect x="932" y="340" width="5" height="35" fill="#f23645"/><rect x="940" y="360" width="1" height="35" fill="#f23645"/><rect x="938" y="374" width="5" height="21" fill="#f23645"/><rect x="946" y="379" width="1" height="25" fill="#089981"/><rect x="944" y="394" width="5" height="1" fill="#089981"/><rect x="952" y="379" width="1" height="20" fill="#089981"/><rect x="950" y="384" width="5" height="11" fill="#089981"/><rect x="958" y="374" width="1" height="20" fill="#089981"/><rect x="956" y="379" width="5" height="6" fill="#089981"/><rect x="964" y="379" width="1" height="20" fill="#f23645"/><rect x="962" y="379" width="5" height="16" fill="#f23645"/><rect x="968" y="384" width="5" height="11" fill="#089981"/><rect x="976" y="374" width="1" height="20" fill="#f23645"/><rect x="974" y="384" width="5" height="6" fill="#f23645"/><rect x="980" y="374" width="5" height="16" fill="#089981"/><rect x="988" y="379" width="1" height="15" fill="#f23645"/><rect x="986" y="379" width="5" height="6" fill="#f23645"/><rect x="994" y="374" width="1" height="50" fill="#f23645"/><rect x="992" y="384" width="5" height="36" fill="#f23645"/><rect x="1000" y="414" width="1" height="39" fill="#f23645"/><rect x="998" y="424" width="5" height="25" fill="#f23645"/><rect x="1006" y="443" width="1" height="25" fill="#f23645"/><rect x="1004" y="448" width="5" height="6" fill="#f23645"/><rect x="1012" y="443" width="1" height="25" fill="#f23645"/><rect x="1010" y="448" width="5" height="10" fill="#f23645"/><rect x="1018" y="443" width="1" height="20" fill="#089981"/><rect x="1016" y="453" width="5" height="5" fill="#089981"/><rect x="1024" y="438" width="1" height="25" fill="#089981"/><rect x="1022" y="443" width="5" height="11" fill="#089981"/><rect x="1030" y="443" width="1" height="59" fill="#f23645"/><rect x="1028" y="443" width="5" height="49" fill="#f23645"/><rect x="1036" y="488" width="1" height="35" fill="#f23645"/><rect x="1034" y="492" width="5" height="31" fill="#f23645"/><rect x="1042" y="512" width="1" height="40" fill="#089981"/><rect x="1040" y="522" width="5" height="1" fill="#089981"/><rect x="1048" y="488" width="1" height="44" fill="#089981"/><rect x="1046" y="492" width="5" height="31" fill="#089981"/><rect x="1054" y="492" width="1" height="25" fill="#f23645"/><rect x="1052" y="497" width="5" height="16" fill="#f23645"/><rect x="1060" y="497" width="1" height="20" fill="#089981"/><rect x="1058" y="512" width="5" height="1" fill="#089981"/><rect x="1066" y="507" width="1" height="30" fill="#f23645"/><rect x="1064" y="507" width="5" height="21" fill="#f23645"/><rect x="1072" y="517" width="1" height="20" fill="#f23645"/><rect x="1070" y="527" width="5" height="6" fill="#f23645"/><rect x="1078" y="512" width="1" height="30" fill="#089981"/><rect x="1076" y="527" width="5" height="1" fill="#089981"/><rect x="1084" y="512" width="1" height="30" fill="#089981"/><rect x="1082" y="527" width="5" height="6" fill="#089981"/><rect x="1090" y="517" width="1" height="21" fill="#f23645"/><rect x="1088" y="522" width="5" height="16" fill="#f23645"/><rect x="1096" y="537" width="1" height="24" fill="#f23645"/><rect x="1094" y="537" width="5" height="16" fill="#f23645"/><rect x="1102" y="537" width="1" height="20" fill="#089981"/><rect x="1100" y="542" width="5" height="6" fill="#089981"/><rect x="1108" y="517" width="1" height="35" fill="#089981"/><rect x="1106" y="537" width="5" height="6" fill="#089981"/><rect x="1114" y="532" width="1" height="20" fill="#f23645"/><rect x="1112" y="532" width="5" height="16" fill="#f23645"/><rect x="1120" y="532" width="1" height="25" fill="#f23645"/><rect x="1118" y="547" width="5" height="6" fill="#f23645"/><rect x="1126" y="537" width="1" height="20" fill="#089981"/><rect x="1124" y="552" width="5" height="1" fill="#089981"/><rect x="1132" y="547" width="1" height="14" fill="#f23645"/><rect x="1130" y="552" width="5" height="6" fill="#f23645"/><rect x="1138" y="547" width="1" height="24" fill="#f23645"/><rect x="1136" y="557" width="5" height="5" fill="#f23645"/><rect x="1144" y="547" width="1" height="29" fill="#f23645"/><rect x="1142" y="557" width="5" height="15" fill="#f23645"/><rect x="1150" y="576" width="1" height="25" fill="#f23645"/><rect x="1148" y="576" width="5" height="11" fill="#f23645"/><rect x="1154" y="586" width="5" height="26" fill="#f23645"/><rect x="1162" y="596" width="1" height="20" fill="#089981"/><rect x="1160" y="596" width="5" height="11" fill="#089981"/><rect x="1168" y="581" width="1" height="20" fill="#089981"/><rect x="1166" y="581" width="5" height="16" fill="#089981"/><rect x="1174" y="576" width="1" height="20" fill="#089981"/><rect x="1172" y="586" width="5" height="1" fill="#089981"/><rect x="1180" y="581" width="1" height="20" fill="#089981"/><rect x="1178" y="581" width="5" height="1" fill="#089981"/><rect x="1186" y="581" width="1" height="15" fill="#f23645"/><rect x="1184" y="581" width="5" height="11" fill="#f23645"/><rect x="1192" y="576" width="1" height="20" fill="#089981"/><rect x="1190" y="591" width="5" height="1" fill="#089981"/><rect x="1198" y="586" width="1" height="44" fill="#f23645"/><rect x="1196" y="591" width="5" height="35" fill="#f23645"/><rect x="1204" y="621" width="1" height="39" fill="#f23645"/><rect x="1202" y="625" width="5" height="26" fill="#f23645"/><rect x="1210" y="645" width="1" height="21" fill="#f23645"/><rect x="1208" y="650" width="5" height="16" fill="#f23645"/><rect x="1216" y="660" width="1" height="20" fill="#f23645"/><rect x="1214" y="660" width="5" height="11" fill="#f23645"/><rect x="1222" y="660" width="1" height="29" fill="#089981"/><rect x="1220" y="670" width="5" height="1" fill="#089981"/><rect x="1228" y="650" width="1" height="25" fill="#089981"/><rect x="1226" y="650" width="5" height="21" fill="#089981"/><rect x="1234" y="645" width="1" height="20" fill="#089981"/><rect x="1232" y="650" width="5" height="1" fill="#089981"/><rect x="1240" y="645" width="1" height="20" fill="#f23645"/><rect x="1238" y="650" width="5" height="6" fill="#f23645"/><rect x="1244" y="655" width="5" height="55" fill="#f23645"/><rect x="1252" y="685" width="1" height="24" fill="#089981"/><rect x="1250" y="699" width="5" height="6" fill="#089981"/><rect x="1256" y="675" width="5" height="25" fill="#089981"/><rect x="1264" y="670" width="1" height="24" fill="#f23645"/><rect x="1262" y="680" width="5" height="6" fill="#f23645"/><rect x="1270" y="685" width="1" height="24" fill="#f23645"/><rect x="1268" y="685" width="5" height="10" fill="#f23645"/><rect x="1276" y="685" width="1" height="19" fill="#089981"/><rect x="1274" y="689" width="5" height="6" fill="#089981"/><rect x="1282" y="694" width="1" height="35" fill="#f23645"/><rect x="1280" y="694" width="5" height="31" fill="#f23645"/><rect x="1288" y="685" width="1" height="44" fill="#089981"/><rect x="1286" y="685" width="5" height="40" fill="#089981"/><rect x="1294" y="670" width="1" height="19" fill="#089981"/><rect x="1292" y="675" width="5" height="11" fill="#089981"/><rect x="1300" y="670" width="1" height="24" fill="#f23645"/><rect x="1298" y="670" width="5" height="20" fill="#f23645"/><rect x="1306" y="685" width="1" height="14" fill="#089981"/><rect x="1304" y="689" width="5" height="1" fill="#089981"/><rect x="1312" y="680" width="1" height="19" fill="#089981"/><rect x="1310" y="689" width="5" height="1" fill="#089981"/><rect x="1318" y="670" width="1" height="29" fill="#089981"/><rect x="1316" y="689" width="5" height="6" fill="#089981"/><rect x="1324" y="675" width="1" height="15" fill="#089981"/><rect x="1322" y="685" width="5" height="5" fill="#089981"/><rect x="1328" y="650" width="5" height="40" fill="#089981"/><rect x="1336" y="655" width="1" height="20" fill="#f23645"/><rect x="1334" y="655" width="5" height="16" fill="#f23645"/><rect x="1342" y="650" width="1" height="35" fill="#089981"/><rect x="1340" y="650" width="5" height="26" fill="#089981"/><rect x="1348" y="630" width="1" height="40" fill="#089981"/><rect x="1346" y="635" width="5" height="21" fill="#089981"/><rect x="1354" y="621" width="1" height="24" fill="#089981"/><rect x="1352" y="625" width="5" height="11" fill="#089981"/><rect x="1360" y="621" width="1" height="34" fill="#f23645"/><rect x="1358" y="625" width="5" height="16" fill="#f23645"/><rect x="1366" y="635" width="1" height="15" fill="#089981"/><rect x="1364" y="635" width="5" height="11" fill="#089981"/><rect x="1370" y="616" width="5" height="20" fill="#089981"/><rect x="1378" y="606" width="1" height="15" fill="#089981"/><rect x="1376" y="606" width="5" height="11" fill="#089981"/><rect x="1384" y="581" width="1" height="26" fill="#089981"/><rect x="1382" y="591" width="5" height="16" fill="#089981"/><rect x="1390" y="581" width="1" height="20" fill="#089981"/><rect x="1388" y="586" width="5" height="1" fill="#089981"/><rect x="1396" y="547" width="1" height="54" fill="#089981"/><rect x="1394" y="552" width="5" height="40" fill="#089981"/><rect x="1402" y="552" width="1" height="24" fill="#f23645"/><rect x="1400" y="552" width="5" height="14" fill="#f23645"/><rect x="1406" y="532" width="5" height="40" fill="#089981"/><rect x="1414" y="512" width="1" height="25" fill="#089981"/><rect x="1412" y="522" width="5" height="6" fill="#089981"/><rect x="1420" y="507" width="1" height="16" fill="#089981"/><rect x="1418" y="512" width="5" height="11" fill="#089981"/><rect x="1426" y="512" width="1" height="21" fill="#f23645"/><rect x="1424" y="517" width="5" height="16" fill="#f23645"/><rect x="1432" y="527" width="1" height="39" fill="#f23645"/><rect x="1430" y="532" width="5" height="16" fill="#f23645"/><rect x="1438" y="547" width="1" height="19" fill="#f23645"/><rect x="1436" y="552" width="5" height="6" fill="#f23645"/><rect x="1444" y="547" width="1" height="19" fill="#089981"/><rect x="1442" y="547" width="5" height="15" fill="#089981"/><rect x="1450" y="512" width="1" height="31" fill="#089981"/><rect x="1448" y="522" width="5" height="21" fill="#089981"/><rect x="1454" y="527" width="5" height="1" fill="#089981"/><rect x="1460" y="527" width="5" height="1" fill="#089981"/></g><path d="M1464 450H1510Q1512 450 1512 452V479Q1512 481 1510 481H1464Z" fill="#f23645" shape-rendering="auto"/><path d="M1465.5 519.5H1509.5Q1511.5 519.5 1511.5 521.5V533.5Q1511.5 535.5 1509.5 535.5H1465.5Q1464.5 535.5 1464.5 534.5V520.5Q1464.5 519.5 1465.5 519.5Z" fill="#fff" stroke="#089981" stroke-width="1" shape-rendering="auto"/><path d="M1465.5 761.5H1514.5Q1516.5 761.5 1516.5 763.5V775.5Q1516.5 777.5 1514.5 777.5H1465.5Q1464.5 777.5 1464.5 776.5V762.5Q1464.5 761.5 1465.5 761.5Z" fill="#fff" stroke="#26a69a" stroke-width="1" shape-rendering="auto"/><g fill="#131722" shape-rendering="auto"><path d="M10 831.2H17.7V840.7H14.1V834.8H10Z"/><circle cx="20.9" cy="833" r="1.8"/><path d="M25.5 831.2H29.6L25.5 840.7H21.2Z"/></g></svg>
<svg width="1532" height="854" style="position:absolute;left:0;top:0;will-change:transform" font-family="Liberation Sans, sans-serif"><defs><clipPath id="cpa2"><rect x="1463" y="28" width="58" height="763"/></clipPath><clipPath id="cpt"><rect x="10" y="791" width="1454" height="27"/></clipPath></defs><text x="10.4" y="18.9" font-size="12" fill="#131722" textLength="45.4" lengthAdjust="spacingAndGlyphs">teru-kan</text><text x="59.6" y="18.9" font-size="12" fill="#131722" textLength="12.2" lengthAdjust="spacingAndGlyphs">が</text><text x="75" y="18.9" font-size="12" fill="#131722" textLength="91" lengthAdjust="spacingAndGlyphs">TradingView.com</text><text x="169.8" y="18.9" font-size="12" fill="#131722" textLength="11.3" lengthAdjust="spacingAndGlyphs">で</text><text x="185.6" y="18.9" font-size="12" fill="#131722" textLength="12" lengthAdjust="spacingAndGlyphs">12</text><text x="197.6" y="18.9" font-size="12" fill="#131722" textLength="11.2" lengthAdjust="spacingAndGlyphs">月</text><text x="213" y="18.9" font-size="12" fill="#131722" textLength="16.2" lengthAdjust="spacingAndGlyphs">23,</text><text x="233.5" y="18.9" font-size="12" fill="#131722" textLength="25.5" lengthAdjust="spacingAndGlyphs">2022</text><text x="263" y="18.9" font-size="12" fill="#131722" textLength="29.8" lengthAdjust="spacingAndGlyphs">13:36</text><text x="295.6" y="18.9" font-size="12" fill="#131722" textLength="35.4" lengthAdjust="spacingAndGlyphs">UTC+9</text><text x="335.3" y="18.9" font-size="12" fill="#131722" textLength="34.1" lengthAdjust="spacingAndGlyphs">に公開</text><text x="18.5" y="45.8" font-size="12" fill="#131722" textLength="434" lengthAdjust="spacingAndGlyphs">NIKKEI 225 MINI FUTURES (CONTINUOUS: CURRENT CONTRACT IN FRONT), 5, OSE</text><text x="459.7" y="45.8" font-size="12" fill="#131722" textLength="24.8" lengthAdjust="spacingAndGlyphs">始値</text><text x="483.8" y="45.8" font-size="12" fill="#f23645" textLength="31.8" lengthAdjust="spacingAndGlyphs">26190</text><text x="522.6" y="45.8" font-size="12" fill="#131722" textLength="24.6" lengthAdjust="spacingAndGlyphs">高値</text><text x="546.4" y="45.8" font-size="12" fill="#f23645" textLength="32.1" lengthAdjust="spacingAndGlyphs">26190</text><text x="585.5" y="45.8" font-size="12" fill="#131722" textLength="24.9" lengthAdjust="spacingAndGlyphs">安値</text><text x="609.6" y="45.8" font-size="12" fill="#f23645" textLength="31.5" lengthAdjust="spacingAndGlyphs">26175</text><text x="647.6" y="45.8" font-size="12" fill="#131722" textLength="24.9" lengthAdjust="spacingAndGlyphs">終値</text><text x="671.7" y="45.8" font-size="12" fill="#f23645" textLength="32.3" lengthAdjust="spacingAndGlyphs">26175</text><text x="711" y="45.8" font-size="12" fill="#f23645" textLength="68.2" lengthAdjust="spacingAndGlyphs">−10 (−0.04%)</text><text x="18.7" y="62.8" font-size="12" fill="#131722" textLength="35" lengthAdjust="spacingAndGlyphs">出来高</text><text x="62.2" y="62.8" font-size="12" fill="#ef5350" textLength="36.3" lengthAdjust="spacingAndGlyphs">1.425K</text><text x="32.9" y="840.9" font-size="12" fill="#131722" textLength="71.3" lengthAdjust="spacingAndGlyphs">TradingView</text><g clip-path="url(#cpa2)"><text x="1474.1" y="44.9" font-size="12" fill="#131722" textLength="19.9" lengthAdjust="spacingAndGlyphs">JPY</text><text x="1474.2" y="83.16" font-size="12" fill="#131722" textLength="31.8" lengthAdjust="spacingAndGlyphs">26560</text><text x="1474.2" y="122.57" font-size="12" fill="#131722" textLength="31.8" lengthAdjust="spacingAndGlyphs">26520</text><text x="1474.2" y="161.98" font-size="12" fill="#131722" textLength="31.8" lengthAdjust="spacingAndGlyphs">26480</text><text x="1474.2" y="201.39" font-size="12" fill="#131722" textLength="31.8" lengthAdjust="spacingAndGlyphs">26440</text><text x="1474.2" y="240.80" font-size="12" fill="#131722" textLength="31.8" lengthAdjust="spacingAndGlyphs">26400</text><text x="1474.2" y="280.21" font-size="12" fill="#131722" textLength="31.8" lengthAdjust="spacingAndGlyphs">26360</text><text x="1474.2" y="319.62" font-size="12" fill="#131722" textLength="31.8" lengthAdjust="spacingAndGlyphs">26320</text><text x="1474.2" y="359.03" font-size="12" fill="#131722" textLength="31.8" lengthAdjust="spacingAndGlyphs">26280</text><text x="1474.2" y="398.44" font-size="12" fill="#131722" textLength="31.8" lengthAdjust="spacingAndGlyphs">26240</text><text x="1474.2" y="437.85" font-size="12" fill="#131722" textLength="31.8" lengthAdjust="spacingAndGlyphs">26200</text><text x="1474.2" y="516.67" font-size="12" fill="#131722" textLength="31.8" lengthAdjust="spacingAndGlyphs">26120</text><text x="1474.2" y="556.08" font-size="12" fill="#131722" textLength="31.8" lengthAdjust="spacingAndGlyphs">26080</text><text x="1474.2" y="595.49" font-size="12" fill="#131722" textLength="31.8" lengthAdjust="spacingAndGlyphs">26040</text><text x="1474.2" y="634.90" font-size="12" fill="#131722" textLength="31.8" lengthAdjust="spacingAndGlyphs">26000</text><text x="1474.2" y="674.31" font-size="12" fill="#131722" textLength="31.8" lengthAdjust="spacingAndGlyphs">25960</text><text x="1474.2" y="713.72" font-size="12" fill="#131722" textLength="31.8" lengthAdjust="spacingAndGlyphs">25920</text><text x="1474.2" y="753.13" font-size="12" fill="#131722" textLength="31.8" lengthAdjust="spacingAndGlyphs">25880</text><text x="1474.2" y="792.54" font-size="12" fill="#131722" textLength="31.8" lengthAdjust="spacingAndGlyphs">25840</text><text x="1474" y="463.1" font-size="12" font-weight="bold" fill="#fff" textLength="32.2" lengthAdjust="spacingAndGlyphs">26175</text><text x="1474" y="476.9" font-size="12" font-weight="bold" fill="#fcdfe2" textLength="29.1" lengthAdjust="spacingAndGlyphs">03:11</text><text x="1474.2" y="531.9" font-size="12" fill="#089981" textLength="31.6" lengthAdjust="spacingAndGlyphs">26105</text><text x="1474.1" y="774" font-size="12" fill="#26a69a" textLength="37.1" lengthAdjust="spacingAndGlyphs">2.252K</text></g><g clip-path="url(#cpt)"><text x="10.3" y="808.9" font-size="12" fill="#131722" text-anchor="middle" textLength="29.8" lengthAdjust="spacingAndGlyphs">09:00</text><text x="106.4" y="808.9" font-size="12" fill="#131722" text-anchor="middle" textLength="29.8" lengthAdjust="spacingAndGlyphs">10:00</text><text x="250.4" y="808.9" font-size="12" fill="#131722" text-anchor="middle" textLength="29.8" lengthAdjust="spacingAndGlyphs">12:00</text><text x="358" y="808.9" font-size="12" fill="#131722" text-anchor="middle" textLength="29.8" lengthAdjust="spacingAndGlyphs">13:30</text><text x="466.2" y="808.9" font-size="12" fill="#131722" text-anchor="middle" textLength="29.8" lengthAdjust="spacingAndGlyphs">15:00</text><text x="598" y="808.9" font-size="12" fill="#131722" text-anchor="middle" textLength="29.8" lengthAdjust="spacingAndGlyphs">18:00</text><text x="706.4" y="808.9" font-size="12" fill="#131722" text-anchor="middle" textLength="29.8" lengthAdjust="spacingAndGlyphs">19:30</text><text x="814.2" y="808.9" font-size="12" fill="#131722" text-anchor="middle" textLength="29.8" lengthAdjust="spacingAndGlyphs">21:00</text><text x="922.3" y="808.9" font-size="12" fill="#131722" text-anchor="middle" textLength="29.8" lengthAdjust="spacingAndGlyphs">22:30</text><text x="1138" y="808.9" font-size="12" fill="#131722" text-anchor="middle" textLength="29.8" lengthAdjust="spacingAndGlyphs">01:30</text><text x="1246" y="808.9" font-size="12" fill="#131722" text-anchor="middle" textLength="29.8" lengthAdjust="spacingAndGlyphs">03:00</text><text x="1354.2" y="808.9" font-size="12" fill="#131722" text-anchor="middle" textLength="29.8" lengthAdjust="spacingAndGlyphs">04:30</text><text x="1462" y="808.9" font-size="12" fill="#131722" text-anchor="middle" textLength="29.8" lengthAdjust="spacingAndGlyphs">06:00</text><text x="1030.2" y="808.9" font-size="12" fill="#131722" font-weight="bold" text-anchor="middle" textLength="13.2" lengthAdjust="spacingAndGlyphs">23</text></g></svg>
</body></html>
